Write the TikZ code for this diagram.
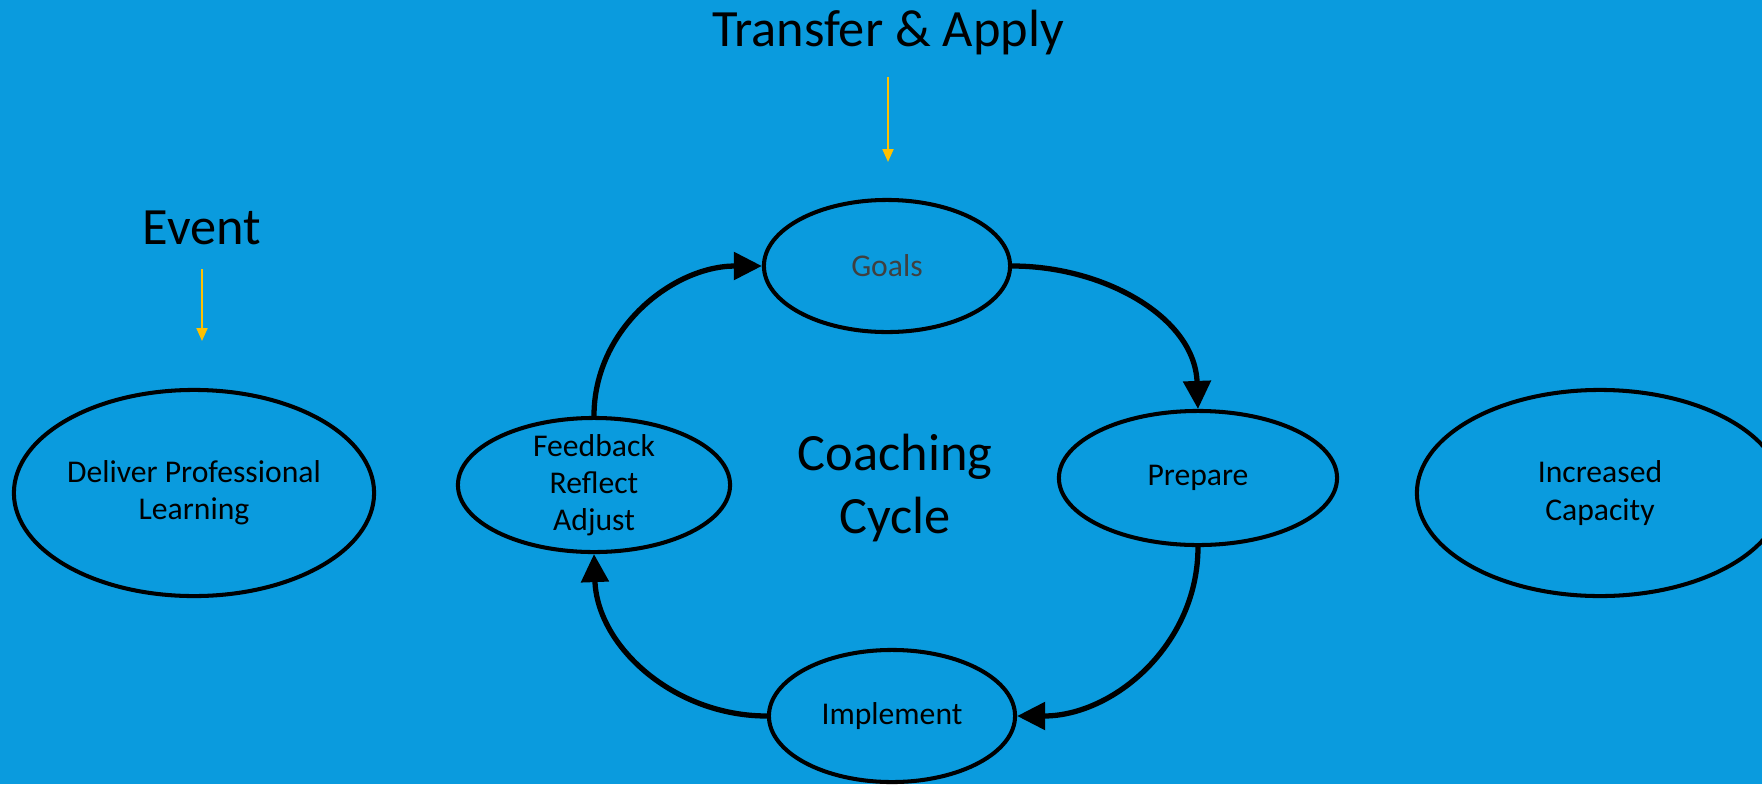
\documentclass[tikz,border=0pt]{standalone}
\usepackage{fontspec}
\setmainfont{Carlito}
\usepackage{tikz}
\usetikzlibrary{shapes,arrows.meta,positioning,calc}

\definecolor{slideblue}{RGB}{10,155,222}
\definecolor{eventgold}{RGB}{255,192,0}
\definecolor{goalgray}{RGB}{64,64,64}

\begin{document}
\begin{tikzpicture}[x=0.01cm, y=-0.01cm,
  stage/.style={ellipse, draw=black, line width=1.15pt, inner sep=0pt, align=center,
    font=\fontsize{9}{10.6}\selectfont},
  heading/.style={font=\fontsize{14.9}{17.9}\selectfont, align=center},
  cyclearrow/.style={line width=1.5pt, -{Triangle[length=2.8mm,width=2.7mm]}},
  pointer/.style={draw=eventgold, line width=0.6pt, -{Triangle[length=1.3mm,width=1.1mm]}}]

% Background
\fill[slideblue] (0,0) rectangle (1762,784);
\useasboundingbox (0,0) rectangle (1762,784);

% Headings
\node[heading, anchor=base] (transfer) at (888,46) {Transfer \& Apply};
\node[heading, anchor=base] (event) at (202,244) {Event};
\node[heading] (cycle) at (895,488) {Coaching\\Cycle};

% Stages
\node[stage, minimum width=3.6cm, minimum height=2.06cm] (deliver) at (194,493) {Deliver Professional\\Learning};
\node[stage, minimum width=2.46cm, minimum height=1.32cm, text=goalgray] (goals) at (887,266) {Goals};
\node[stage, minimum width=2.78cm, minimum height=1.34cm] (prepare) at (1198,478) {Prepare};
\node[stage, minimum width=2.46cm, minimum height=1.32cm] (implement) at (892,716) {Implement};
\node[stage, minimum width=2.72cm, minimum height=1.34cm, inner sep=-1.8pt] (feedback) at (594,485) {Feedback\\Reflect\\Adjust};
\node[stage, minimum width=3.66cm, minimum height=2.06cm] (capacity) at (1600,493) {Increased\\Capacity};

% Pointers
\coordinate (transfer from) at (888,77);
\coordinate (transfer to) at (888,162);
\coordinate (event from) at (202,269);
\coordinate (event to) at (202,341);
\draw[pointer] (transfer from) -- (transfer to);
\draw[pointer] (event from) -- (event to);

% Cycle
\draw[cyclearrow] (goals.east) to[out=0,in=92] (prepare.north);
\draw[cyclearrow] (prepare.south) to[out=-90,in=0] (implement.east);
\draw[cyclearrow] (implement.west) to[out=180,in=-88] (feedback.south);
\draw[cyclearrow] (feedback.north) to[out=90,in=180] (goals.west);

\end{tikzpicture}
\end{document}
